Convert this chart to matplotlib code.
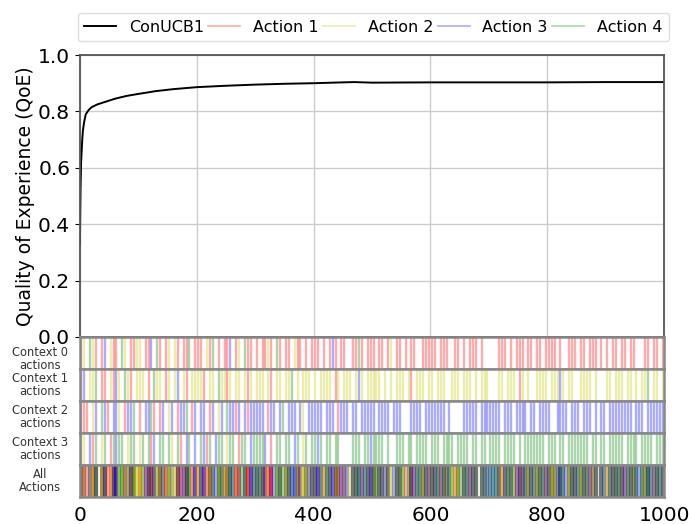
import matplotlib
matplotlib.use("Agg")
import matplotlib.pyplot as plt

# QoE curve of ConUCB1 (time step, QoE)
steps = [0, 1, 2, 3, 4, 5, 7, 10, 15, 20, 30, 45, 60, 80, 100, 130, 160,
         200, 250, 300, 350, 400, 450, 470, 500, 600, 700, 800, 900, 1000]
qoe = [0.33, 0.52, 0.62, 0.66, 0.70, 0.73, 0.76, 0.79, 0.805, 0.815, 0.825,
       0.835, 0.845, 0.855, 0.862, 0.872, 0.879, 0.886, 0.891, 0.895, 0.898,
       0.900, 0.903, 0.904, 0.902, 0.903, 0.903, 0.903, 0.904, 0.904]

# chosen action per 5-step bin for each context ('.' = no pull, r/y/b/g = action 1..4)
context0 = ("ry.gyr.rb.yrr.gy.rry" "y.rrb.gr.ry.yr.rrg.r" "rr.yrg.r.rrb.ry.grr."
            "r.rryr.gr.rr.yrr.r.r" "rr.r.rbr.rr..rrgr.rr" "r.rr.ry.rr.r.rr..rrr"
            "rr.rrr..rr.r.rrr.r.." "...rrr.r.rrr.rr.rr.r" "rrr.r..rrr.rr.rrr.r."
            "r.rr.rr.rr...rr.rr.r")
context1 = ("rb.yyg.rr.yrby.gyr.y" "yy.r.gyy.ry.yb.yr.yy" "yyr.yy.gyyry.yy.yry."
            "yyy.yr.yy.yyg.y.yyy." "y.yyyy.ry.yyy.yby.yy" "yyy.y.y.yyy.yr.yyy.y"
            "y.yyy..yyy.yyy.y.yyy" "...yy.yyy.ry.y..yyyy" ".yyyby.yy..yyyy.y..."
            "yy.yyy.yy.y.yyg.yy.y")
context2 = ("brr.yb.gbr.bby.rbbg." "r.bbgr.rb.yb.rbbg.rb" ".bb.rb.yb.gbbrb.brbb"
            "bbb.rbb.bg.bbb.by.bb" "bbb.bbb.rbbb.bb.bbbb" "b.bbbb.bbb...bbbb.bb"
            "bbbbb.b....bbbbb.bbb" "bbbb.bbb.bbbb.bb.bbb" "b..bbbb.bbb.bbb.b.bb"
            ".bbbbbbbb.bbb.bbbbbb")
context3 = ("gy.brg.yg.rgbgg.ygg." "yg.grb.gg.gy.gr.bg.b" ".gbrg.bgg.ygg.rgg.bg"
            "gggb.r.gg.gg.bg.yg.g" "gbg.gg.gg....ggg.ggb" "gggg.g..ggg.gg.gggg."
            "ggg.gggg.gggg.gg.gg." "gggg.gggg.g.ggggggg." "ggg.gg.ggggggg.gg.gg"
            ".ggggg.gggg.gggg.ggg")
contexts = [context0, context1, context2, context3]
bin_size = 5

action_names = ["Action 1", "Action 2", "Action 3", "Action 4"]
action_keys = ["r", "y", "b", "g"]
action_colors = ["red", "#c8c800", "blue", "green"]
strip_labels = ["Context 0\nactions", "Context 1\nactions", "Context 2\nactions",
                "Context 3\nactions", "All\nActions"]
color_of = dict(zip(action_keys, action_colors))

fig = plt.figure(figsize=(6.89, 5.24), dpi=100)
left, width = 0.116, 0.848
ax = fig.add_axes([left, 0.357, width, 0.538])
ax.plot(steps, qoe, color="black", lw=1.4, label="ConUCB1")
for name, col in zip(action_names, action_colors):
    ax.plot([], [], color=col, alpha=0.3, lw=1.3, label=name)
ax.set_xlim(0, 1000)
ax.set_ylim(0, 1.0)
ax.set_yticks([0, 0.2, 0.4, 0.6, 0.8, 1.0])
ax.set_xticks(range(0, 1001, 200))
ax.tick_params(labelbottom=False, labelsize=14.5)
ax.grid(True, color="#cccccc", lw=1)
ax.set_ylabel("Quality of Experience (QoE)", fontsize=13.5, labelpad=2)
for s in ax.spines.values():
    s.set_color("#555555")
    s.set_linewidth(1.3)
ax.legend(loc="lower left", bbox_to_anchor=(-0.004, 1.05, 1.012, 0.1), mode="expand",
          ncol=5, fontsize=11.5, handlelength=2.0, columnspacing=0.5,
          handletextpad=0.8, borderaxespad=0.0, framealpha=1, edgecolor="#dddddd")

strip_h = 0.0612
for i in range(5):
    bottom = 0.357 - (i + 1) * strip_h
    sax = fig.add_axes([left, bottom, width, strip_h])
    sax.set_xlim(0, 1000)
    sax.set_ylim(0, 1)
    sax.set_yticks([])
    sax.set_xticks(range(0, 1001, 200))
    if i < 4:
        sax.tick_params(labelbottom=False, length=0)
        for key, col in zip(action_keys, action_colors):
            xs = [k * bin_size + bin_size / 2
                  for k, c in enumerate(contexts[i]) if c == key]
            sax.vlines(xs, 0, 1, colors=col, alpha=0.33, lw=1.7)
    else:
        sax.tick_params(labelsize=14.5, length=0, pad=6)
        # every pull of every context, drawn in time order
        for k in range(len(context0)):
            for seq in contexts:
                if seq[k] != ".":
                    sax.vlines(k * bin_size + bin_size / 2, 0, 1,
                               colors=color_of[seq[k]], alpha=0.32, lw=3.0)
    sax.set_ylabel(strip_labels[i], rotation=0, fontsize=8.3, ha="center",
                   va="center", color="#333333", linespacing=1.0)
    sax.yaxis.set_label_coords(-0.068, 0.3 if i == 0 else 0.5)
    for s in sax.spines.values():
        s.set_color("#888888")
        s.set_linewidth(1.8)

fig.savefig("out.png", dpi=100)
